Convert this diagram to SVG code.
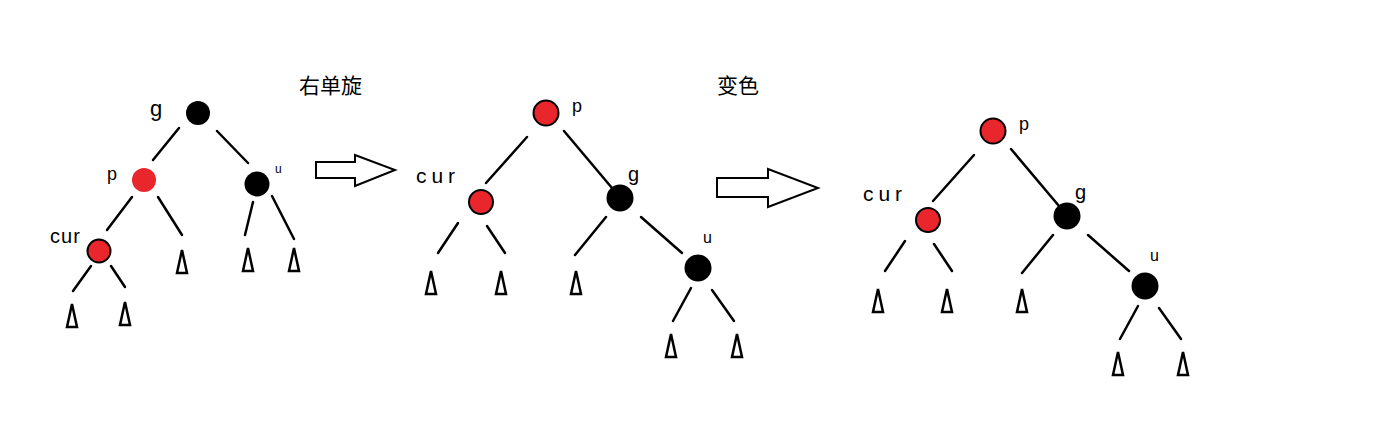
<svg xmlns="http://www.w3.org/2000/svg" width="1400" height="425" viewBox="0 0 1400 425">
<style>
.edge{stroke:#000;stroke-width:2.5;stroke-linecap:round;fill:none}
.leaf{fill:#fff;stroke:#000;stroke-width:2.5;stroke-linejoin:miter}
.black{fill:#000}
.red{fill:#e8262b;stroke:#000;stroke-width:2}
.redflat{fill:#e8262b}
.lbl{font-family:"Liberation Sans","DejaVu Sans",sans-serif;fill:#000}
.title{font-family:"Noto Sans CJK SC",sans-serif;font-size:21px;fill:#000}
.arrow{fill:#fff;stroke:#000;stroke-width:2}
</style>
<defs>
<path id="tri" class="leaf" d="M0,0 L5,23 L-5,23 Z"/>
</defs>
<rect width="1400" height="425" fill="#fff"/>

<text class="title" x="299" y="93">右单旋</text>
<text class="title" x="717" y="93">变色</text>

<g id="arrows">
<polygon class="arrow" points="316,162 355,162 355,155 395,170 355,186 355,178 316,178"/>
<polygon class="arrow" points="717,178 768,178 768,169 818,188 768,207 768,197 717,197"/>
</g>

<g id="connectors">
<!-- tree 1 -->
<line class="edge" x1="179" y1="128" x2="153" y2="160"/>
<line class="edge" x1="217" y1="131" x2="248" y2="163"/>
<line class="edge" x1="132" y1="197" x2="107" y2="230"/>
<line class="edge" x1="158" y1="197" x2="182" y2="235"/>
<line class="edge" x1="253" y1="202" x2="245" y2="235"/>
<line class="edge" x1="272" y1="196" x2="294" y2="239"/>
<line class="edge" x1="91" y1="266" x2="73" y2="291"/>
<line class="edge" x1="111" y1="266" x2="125" y2="287"/>
<!-- tree 2 -->
<line class="edge" x1="527" y1="137" x2="486" y2="183"/>
<line class="edge" x1="564" y1="131" x2="612" y2="188"/>
<line class="edge" x1="458" y1="223" x2="438" y2="253"/>
<line class="edge" x1="487" y1="226" x2="505" y2="253"/>
<line class="edge" x1="606" y1="217" x2="575" y2="255"/>
<line class="edge" x1="641" y1="217" x2="682" y2="253"/>
<line class="edge" x1="691" y1="288" x2="673" y2="321"/>
<line class="edge" x1="712" y1="290" x2="734" y2="321"/>
<!-- tree 3 -->
<line class="edge" x1="974" y1="155" x2="933" y2="201"/>
<line class="edge" x1="1011" y1="149" x2="1059" y2="206"/>
<line class="edge" x1="905" y1="241" x2="885" y2="271"/>
<line class="edge" x1="934" y1="244" x2="952" y2="271"/>
<line class="edge" x1="1053" y1="235" x2="1022" y2="273"/>
<line class="edge" x1="1088" y1="235" x2="1129" y2="271"/>
<line class="edge" x1="1138" y1="306" x2="1120" y2="339"/>
<line class="edge" x1="1159" y1="308" x2="1181" y2="339"/>
</g>

<!-- tree 1 nodes -->
<g id="t1-g"><circle class="black" cx="198" cy="113" r="12"/><text class="lbl" x="150" y="116" font-size="22">g</text></g>
<g id="t1-p"><circle class="redflat" cx="144" cy="180" r="12"/><text class="lbl" x="107" y="180" font-size="18">p</text></g>
<g id="t1-u"><circle class="black" cx="257" cy="184" r="12.5"/><text class="lbl" x="275" y="173" font-size="12">u</text></g>
<g id="t1-cur"><circle class="red" cx="99" cy="251" r="11.5"/><text class="lbl" x="50" y="243" font-size="20" textLength="30">cur</text></g>
<g id="t1-leaves">
<use href="#tri" x="182" y="250"/>
<use href="#tri" x="248" y="248"/>
<use href="#tri" x="294" y="248"/>
<use href="#tri" x="72" y="304"/>
<use href="#tri" x="125" y="302"/>
</g>

<!-- tree 2 nodes -->
<g id="t2-p"><circle class="red" cx="546" cy="113" r="12.5"/><text class="lbl" x="572" y="112" font-size="18">p</text></g>
<g id="t2-cur"><circle class="red" cx="481" cy="202" r="12"/><text class="lbl" x="416" y="183" font-size="21" textLength="39">cur</text></g>
<g id="t2-g"><circle class="black" cx="620" cy="198" r="13.5"/><text class="lbl" x="628" y="181" font-size="20">g</text></g>
<g id="t2-u"><circle class="black" cx="698" cy="268" r="13.5"/><text class="lbl" x="703" y="243" font-size="16">u</text></g>
<g id="t2-leaves">
<use href="#tri" x="431" y="271"/>
<use href="#tri" x="501" y="271"/>
<use href="#tri" x="576" y="271"/>
<use href="#tri" x="671" y="334"/>
<use href="#tri" x="737" y="334"/>
</g>

<!-- tree 3 nodes -->
<g id="t3-p"><circle class="red" cx="993" cy="131" r="12.5"/><text class="lbl" x="1019" y="130" font-size="18">p</text></g>
<g id="t3-cur"><circle class="red" cx="928" cy="220" r="12"/><text class="lbl" x="863" y="201" font-size="21" textLength="39">cur</text></g>
<g id="t3-g"><circle class="black" cx="1067" cy="216" r="13.5"/><text class="lbl" x="1075" y="199" font-size="20">g</text></g>
<g id="t3-u"><circle class="black" cx="1145" cy="286" r="13.5"/><text class="lbl" x="1150" y="261" font-size="16">u</text></g>
<g id="t3-leaves">
<use href="#tri" x="878" y="289"/>
<use href="#tri" x="947" y="289"/>
<use href="#tri" x="1022" y="289"/>
<use href="#tri" x="1118" y="352"/>
<use href="#tri" x="1183" y="352"/>
</g>
</svg>
